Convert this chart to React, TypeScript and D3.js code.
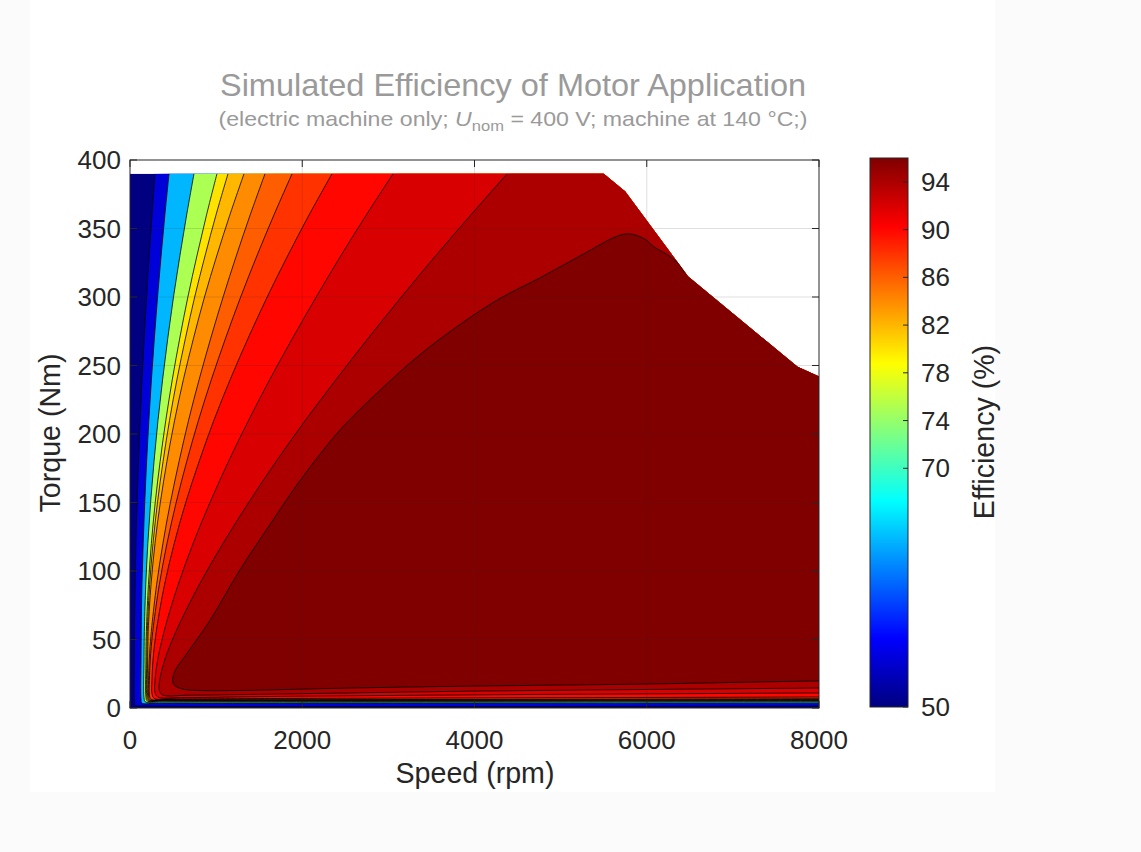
import React from 'react';
import * as d3 from 'd3';

type Pt = [number, number];

// Axis ticks
const speedTicks = [0, 2000, 4000, 6000, 8000];
const torqueTicks = [0, 50, 100, 150, 200, 250, 300, 350, 400];
const colorbarTicks = [50, 70, 74, 78, 82, 86, 90, 94];
const colorLimits: [number, number] = [50, 96];

// Operating envelope (speed rpm, torque Nm)
const envelope: Pt[] = [
  [0, 0], [0, 390], [5500, 390], [5750, 377], [6480, 315], [7750, 249], [8000, 242], [8000, 0],
];

// Iso-efficiency lines (speed rpm, torque Nm), from the top edge down and along the bottom
const c54: Pt[] = [[290, 390], [255, 360], [222, 330], [192, 300], [164, 270], [139, 240], [117, 210], [98, 180], [82, 150], [68, 120], [58, 90], [52, 60], [50, 40], [50, 5], [58, 2], [200, 1.5], [8600, 1.5]];
const c64: Pt[] = [[453, 390], [405, 360], [361, 330], [320, 300], [283, 270], [249, 240], [219, 210], [193, 180], [171, 150], [153, 120], [139, 90], [131, 60], [129, 45], [128, 35], [128, 6.5], [138, 3.6], [300, 3.4], [8600, 3.6]];
const c75: Pt[] = [[743, 390], [658, 360], [579, 330], [505, 300], [439, 270], [379, 240], [325, 210], [279, 180], [239, 150], [207, 120], [183, 90], [168, 60], [164, 45], [163, 35], [163, 7.5], [176, 4.6], [340, 4.4], [8600, 4.6]];
const c80: Pt[] = [[1010, 390], [889, 360], [777, 330], [672, 300], [578, 270], [492, 240], [416, 210], [350, 180], [293, 150], [248, 120], [214, 90], [192, 60], [186, 45], [185, 35], [185, 8], [198, 5.2], [360, 5.0], [8600, 5.2]];
const c82: Pt[] = [[1138, 390], [999, 360], [871, 330], [751, 300], [644, 270], [546, 240], [459, 210], [384, 180], [319, 150], [267, 120], [228, 90], [203, 60], [197, 45], [195, 35], [195, 8.5], [208, 5.5], [380, 5.3], [8600, 5.5]];
const c84: Pt[] = [[1324, 390], [1160, 360], [1007, 330], [865, 300], [738, 270], [621, 240], [518, 210], [429, 180], [352, 150], [290, 120], [244, 90], [214, 60], [207, 45], [205, 35], [205, 9], [220, 5.8], [400, 5.6], [8600, 5.9]];
const c86: Pt[] = [[1568, 390], [1396, 360], [1234, 330], [1081, 300], [938, 270], [804, 240], [680, 210], [570, 180], [469, 150], [382, 120], [309, 90], [254, 60], [233, 45], [223, 35], [215, 20], [215, 9.5], [230, 6.1], [420, 5.9], [8600, 6.3]];
const c88: Pt[] = [[1882, 390], [1672, 360], [1473, 330], [1285, 300], [1110, 270], [946, 240], [795, 210], [659, 180], [536, 150], [429, 120], [340, 90], [272, 60], [247, 45], [235, 35], [225, 20], [225, 10], [242, 6.5], [450, 6.2], [8600, 6.9]];
const c90: Pt[] = [[2346, 390], [2080, 360], [1830, 330], [1593, 300], [1372, 270], [1165, 240], [974, 210], [803, 180], [647, 150], [513, 120], [401, 90], [315, 60], [283, 45], [267, 35], [255, 20], [255, 10.5], [280, 7], [500, 6.7], [1500, 6.9], [8600, 8.1]];
const c92: Pt[] = [[3055, 390], [2745, 360], [2447, 330], [2162, 300], [1888, 270], [1625, 240], [1377, 210], [1144, 180], [929, 150], [732, 120], [559, 90], [413, 60], [354, 45], [321, 35], [290, 20], [290, 11.5], [325, 8], [600, 7.6], [1500, 8.3], [4000, 9.6], [8000, 11], [8600, 11.3]];
const c94: Pt[] = [[4379, 390], [3959, 360], [3547, 330], [3151, 300], [2767, 270], [2396, 240], [2036, 210], [1697, 180], [1378, 150], [1079, 120], [804, 90], [564, 60], [461, 45], [403, 35], [350, 22], [340, 13], [375, 9.6], [700, 9.4], [1500, 10], [4000, 12.3], [8000, 14.6], [8600, 15]];
// Peak-efficiency island, closed outside the envelope
const c96: Pt[] = [
  [8600, 19.7], [8000, 19.7], [6000, 17.5], [4000, 16], [2500, 14.5], [1300, 12.8], [800, 12.8], [600, 14], [510, 17], [495, 21],
  [530, 28], [640, 38], [929, 64], [1278, 101], [1626, 134], [1974, 166], [2439, 203], [2904, 232], [3368, 258], [3833, 280],
  [4297, 299], [4762, 314], [5226, 330], [5749, 346], [5958, 343], [6098, 336], [6240, 331], [6360, 325], [6470, 317],
  [6560, 330], [8600, 330],
];

const openContours: { level: number; pts: Pt[] }[] = [
  { level: 54, pts: c54 }, { level: 64, pts: c64 }, { level: 75, pts: c75 }, { level: 80, pts: c80 },
  { level: 82, pts: c82 }, { level: 84, pts: c84 }, { level: 86, pts: c86 }, { level: 88, pts: c88 },
  { level: 90, pts: c90 }, { level: 92, pts: c92 }, { level: 94, pts: c94 },
];
const islandLevel = 96;
const baseLevel = 50;

// MATLAB-style jet colormap
function jet(v: number): string {
  const t = Math.max(0, Math.min(1, (v - colorLimits[0]) / (colorLimits[1] - colorLimits[0])));
  const c = (a: number) => Math.max(0, Math.min(1, a));
  const r = c(Math.min(4 * t - 1.5, -4 * t + 4.5));
  const g = c(Math.min(4 * t - 0.5, -4 * t + 3.5));
  const b = c(Math.min(4 * t + 0.5, -4 * t + 2.5));
  return d3.rgb(r * 255, g * 255, b * 255).formatHex();
}

const FONT = "'Liberation Sans', Arial, Helvetica, sans-serif";
const AX = '#262626';

export default function App() {
  const x = d3.scaleLinear().domain([0, 8000]).range([130, 819]);
  const y = d3.scaleLinear().domain([0, 400]).range([708, 160]);
  const cb = d3.scaleLinear().domain(colorLimits).range([707, 158]);
  const straight = d3.line<Pt>().x((d) => x(d[0])).y((d) => y(d[1]));
  const smooth = d3
    .line<Pt>()
    .x((d) => x(d[0]))
    .y((d) => y(d[1]))
    .curve(d3.curveCatmullRom.alpha(0.5));

  const envPath = straight(envelope) + 'Z';
  const [x0, x1] = x.range();
  const [yb, yt] = y.range();
  const tickLen = 7;
  const farCorner = `L${x(8600)},${y(420)}Z`;

  const gradStops = d3.range(0, 65).map((i) => {
    const v = colorLimits[0] + (i / 64) * (colorLimits[1] - colorLimits[0]);
    return <stop key={i} offset={`${(i / 64) * 100}%`} stopColor={jet(v)} />;
  });

  return (
    <svg width={1141} height={852} style={{ position: 'absolute', left: 0, top: 0, display: 'block' }}>
      <defs>
        <clipPath id="env-clip">
          <path d={envPath} />
        </clipPath>
        <linearGradient id="jet-grad" x1="0" y1="1" x2="0" y2="0">
          {gradStops}
        </linearGradient>
      </defs>
      <rect x={0} y={0} width={1141} height={852} fill="#fbfbfb" />
      <rect x={30} y={0} width={965} height={792} fill="#ffffff" />

      {/* Title */}
      <text x={513} y={96} textAnchor="middle" fontFamily={FONT} fontSize={32} fill="#9a9a9a" textLength={586} lengthAdjust="spacingAndGlyphs">
        Simulated Efficiency of Motor Application
      </text>
      <text x={513} y={126} textAnchor="middle" fontFamily={FONT} fontSize={21} fill="#9a9a9a" textLength={589} lengthAdjust="spacingAndGlyphs">
        (electric machine only; <tspan fontStyle="italic">U</tspan>
        <tspan fontSize={15} dy={5}>nom</tspan>
        <tspan dy={-5}> = 400 V; machine at 140 °C;)</tspan>
      </text>

      {/* Filled iso-efficiency map */}
      <g clipPath="url(#env-clip)">
        <path d={envPath} fill={jet(baseLevel)} />
        {openContours.map((c) => (
          <path key={c.level} d={smooth(c.pts) + farCorner} fill={jet(c.level)} />
        ))}
        <path d={smooth(c96) + 'Z'} fill={jet(islandLevel)} />
        {openContours.map((c) => (
          <path key={'l' + c.level} d={smooth(c.pts) || ''} fill="none" stroke="#000" strokeWidth={0.8} />
        ))}
        <path d={smooth(c96) || ''} fill="none" stroke="#000" strokeWidth={0.8} />
      </g>

      {/* Grid */}
      <g stroke={AX} strokeOpacity={0.15} strokeWidth={1}>
        {speedTicks.slice(1, -1).map((t) => (
          <line key={'gx' + t} x1={x(t)} x2={x(t)} y1={yb} y2={yt} />
        ))}
        {torqueTicks.slice(1, -1).map((t) => (
          <line key={'gy' + t} x1={x0} x2={x1} y1={y(t)} y2={y(t)} />
        ))}
      </g>

      {/* Axes box and ticks */}
      <rect x={x0} y={yt} width={x1 - x0} height={yb - yt} fill="none" stroke={AX} strokeWidth={1} />
      <g stroke={AX} strokeWidth={1}>
        {speedTicks.map((t) => (
          <g key={'tx' + t}>
            <line x1={x(t)} x2={x(t)} y1={yb} y2={yb - tickLen} />
            <line x1={x(t)} x2={x(t)} y1={yt} y2={yt + tickLen} />
          </g>
        ))}
        {torqueTicks.map((t) => (
          <g key={'ty' + t}>
            <line x1={x0} x2={x0 + tickLen} y1={y(t)} y2={y(t)} />
            <line x1={x1} x2={x1 - tickLen} y1={y(t)} y2={y(t)} />
          </g>
        ))}
      </g>
      <g fontFamily={FONT} fontSize={26} fill={AX}>
        {speedTicks.map((t) => (
          <text key={'lx' + t} x={x(t)} y={749} textAnchor="middle">{t}</text>
        ))}
        {torqueTicks.map((t) => (
          <text key={'ly' + t} x={121} y={y(t) + 9} textAnchor="end">{t}</text>
        ))}
      </g>
      <text x={475} y={783} textAnchor="middle" fontFamily={FONT} fontSize={28.6} fill={AX}>Speed (rpm)</text>
      <text transform="translate(60,433) rotate(-90)" textAnchor="middle" fontFamily={FONT} fontSize={28.6} fill={AX}>Torque (Nm)</text>

      {/* Colorbar */}
      <rect x={870} y={cb(colorLimits[1])} width={38} height={cb(colorLimits[0]) - cb(colorLimits[1])} fill="url(#jet-grad)" stroke={AX} strokeWidth={1} />
      <g stroke={AX} strokeWidth={1}>
        {colorbarTicks.map((t) => (
          <line key={'ct' + t} x1={908} x2={903} y1={cb(t)} y2={cb(t)} />
        ))}
      </g>
      <g fontFamily={FONT} fontSize={26} fill={AX}>
        {colorbarTicks.map((t) => (
          <text key={'cl' + t} x={921} y={cb(t) + 9}>{t}</text>
        ))}
      </g>
      <text transform="translate(994,432) rotate(-90)" textAnchor="middle" fontFamily={FONT} fontSize={28.6} fill={AX}>Efficiency (%)</text>

      {/* Caption below the figure, running off the bottom edge */}
      <text x={205} y={875} fontFamily="'Liberation Serif', 'DejaVu Serif', serif" fontSize={32} fill="#cfcfcf">
        Simulated Efficiency of Motor Application
      </text>
    </svg>
  );
}
